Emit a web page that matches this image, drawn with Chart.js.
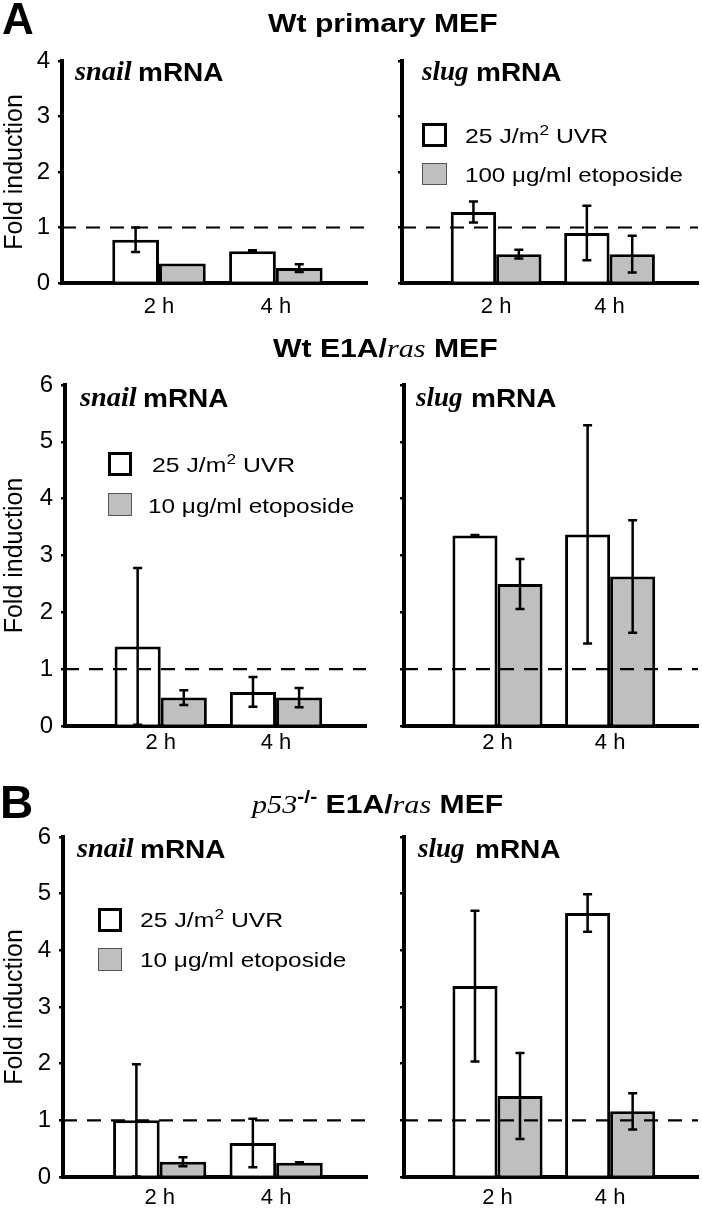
<!DOCTYPE html>
<html lang="en">
<head>
<meta charset="UTF-8">
<title>snail / slug mRNA fold induction</title>
<script src="https://cdn.jsdelivr.net/npm/chart.js"></script>
<style>
  body { margin: 0; background: #fff; }
  #figure { position: relative; width: 702px; height: 1211px; overflow: hidden; background: #fff;
            font-family: "Liberation Sans", Arial, Helvetica, sans-serif; color: #000; }
  #figure canvas { position: absolute; }
  .lbl { position: absolute; white-space: nowrap; line-height: 1; transform-origin: 0 0; }
  .b { font-weight: bold; }
  .gene { font-family: "Liberation Serif", "Times New Roman", serif; font-style: italic; font-weight: bold; }
  .it { font-family: "Liberation Serif", "Times New Roman", serif; font-style: italic; font-weight: normal; }
  .sup { font-size: 0.7em; position: relative; top: -0.55em; }
  .key { position: absolute; box-sizing: border-box; }
</style>
</head>
<body>
<div id="figure">
  <canvas id="aSnail" width="370" height="330" style="left:0;top:0"></canvas>
  <canvas id="aSlug" width="332" height="330" style="left:370px;top:0"></canvas>
  <canvas id="mSnail" width="370" height="430" style="left:0;top:330px"></canvas>
  <canvas id="mSlug" width="332" height="430" style="left:370px;top:330px"></canvas>
  <canvas id="bSnail" width="370" height="451" style="left:0;top:760px"></canvas>
  <canvas id="bSlug" width="332" height="451" style="left:370px;top:760px"></canvas>
</div>

<script>
  // time points (category index on the x axis) and their labels
  const timeIndex = [1, 2];
  const times = ['2 h', '4 h'];

  // A: Wt primary MEF
  const aSnailUV = [0.78, 0.57], aSnailUVErr = [0.22, 0.02];
  const aSnailEto = [0.35, 0.27], aSnailEtoErr = [0, 0.07];
  const aSlugUV = [1.28, 0.90], aSlugUVErr = [0.19, 0.49];
  const aSlugEto = [0.52, 0.52], aSlugEtoErr = [0.08, 0.33];

  // Wt E1A/ras MEF
  const mSnailUV = [1.40, 0.60], mSnailUVErr = [1.38, 0.26];
  const mSnailEto = [0.50, 0.50], mSnailEtoErr = [0.13, 0.17];
  const mSlugUV = [3.35, 3.37], mSlugUVErr = [0.01, 1.92];
  const mSlugEto = [2.50, 2.63], mSlugEtoErr = [0.44, 0.99];

  // B: p53-/- E1A/ras MEF
  const bSnailUV = [1.00, 0.60], bSnailUVErr = [0.99, 0.43];
  const bSnailEto = [0.27, 0.25], bSnailEtoErr = [0.08, 0.01];
  const bSlugUV = [3.37, 4.66], bSlugUVErr = [1.33, 0.33];
  const bSlugEto = [1.43, 1.16], bSlugEtoErr = [0.76, 0.32];

  const baseline = 1; // untreated level, dashed line

  const SANS = '"Liberation Sans", Arial, Helvetica, sans-serif';

  // dashed line at 1 and the error bars, drawn over the bars
  const overlay = {
    id: 'overlay',
    afterDatasetsDraw(chart) {
      const { ctx, chartArea, scales: { y } } = chart;
      ctx.save();
      ctx.strokeStyle = '#000';
      ctx.lineWidth = 2.2;
      ctx.setLineDash([14, 10]);
      const yb = y.getPixelForValue(baseline);
      ctx.beginPath();
      ctx.moveTo(chartArea.left, yb);
      ctx.lineTo(chartArea.right, yb);
      ctx.stroke();
      ctx.setLineDash([]);
      ctx.lineWidth = 2.5;
      chart.data.datasets.forEach((ds, di) => {
        chart.getDatasetMeta(di).data.forEach((bar, i) => {
          const v = ds.data[i].y, e = ds.errors[i];
          if (!e) return;
          const top = y.getPixelForValue(v + e);
          const bot = y.getPixelForValue(Math.max(v - e, 0));
          ctx.beginPath();
          ctx.moveTo(bar.x, top); ctx.lineTo(bar.x, bot);
          ctx.moveTo(bar.x - 4.5, top); ctx.lineTo(bar.x + 4.5, top);
          ctx.moveTo(bar.x - 4.5, bot); ctx.lineTo(bar.x + 4.5, bot);
          ctx.stroke();
        });
      });
      ctx.restore();
    }
  };

  const toPoints = vals => timeIndex.map((x, i) => ({ x, y: vals[i] }));

  function makeChart(id, o) {
    new Chart(document.getElementById(id), {
      type: 'bar',
      data: {
        datasets: [
          { label: '25 J/m2 UVR', data: toPoints(o.uv), errors: o.uvErr,
            backgroundColor: '#ffffff', borderColor: '#000', borderWidth: 3,
            categoryPercentage: 0.8, barPercentage: 1 },
          { label: 'etoposide', data: toPoints(o.eto), errors: o.etoErr,
            backgroundColor: '#bfbfbf', borderColor: '#000', borderWidth: 3,
            categoryPercentage: 0.8, barPercentage: 1 }
        ]
      },
      options: {
        responsive: false,
        animation: false,
        devicePixelRatio: 1,
        layout: { padding: { top: o.padTop, right: o.padRight, left: 0, bottom: 0 } },
        plugins: { legend: { display: false }, tooltip: { enabled: false } },
        scales: {
          x: {
            type: 'linear', min: 0.17, max: 2.78, offset: false,
            afterBuildTicks: s => { s.ticks = timeIndex.map(v => ({ value: v })); },
            afterFit: s => { s.height = o.xH; },
            grid: { display: false, drawTicks: false },
            border: { display: true, color: '#000', width: 4 },
            ticks: { color: '#000', padding: o.xPad, font: { family: SANS, size: 22 },
                     callback: v => times[timeIndex.indexOf(v)] }
          },
          y: {
            min: 0, max: o.yMax,
            afterFit: s => { s.width = o.axisX; },
            grid: { drawOnChartArea: false, drawTicks: true, tickLength: 4, color: '#000', lineWidth: 2.5 },
            border: { display: true, color: '#000', width: 4 },
            ticks: { display: o.labels, stepSize: 1, color: '#000', padding: 8, font: { family: SANS, size: 24 } },
            title: { display: o.labels, text: 'Fold induction', color: '#000', padding: 0,
                     font: { family: SANS, size: 25 } }
          }
        }
      },
      plugins: [overlay]
    });
  }

  makeChart('aSnail', { uv: aSnailUV, uvErr: aSnailUVErr, eto: aSnailEto, etoErr: aSnailEtoErr,
    yMax: 4, padTop: 61, xH: 47, xPad: 11, axisX: 62, padRight: 3, labels: true });
  makeChart('aSlug', { uv: aSlugUV, uvErr: aSlugUVErr, eto: aSlugEto, etoErr: aSlugEtoErr,
    yMax: 4, padTop: 61, xH: 47, xPad: 11, axisX: 32, padRight: 4, labels: false });
  makeChart('mSnail', { uv: mSnailUV, uvErr: mSnailUVErr, eto: mSnailEto, etoErr: mSnailEtoErr,
    yMax: 6, padTop: 55, xH: 34, xPad: 4, axisX: 65, padRight: 4, labels: true });
  makeChart('mSlug', { uv: mSlugUV, uvErr: mSlugUVErr, eto: mSlugEto, etoErr: mSlugEtoErr,
    yMax: 6, padTop: 55, xH: 34, xPad: 4, axisX: 34, padRight: 4, labels: false });
  makeChart('bSnail', { uv: bSnailUV, uvErr: bSnailUVErr, eto: bSnailEto, etoErr: bSnailEtoErr,
    yMax: 6, padTop: 77, xH: 34, xPad: 8, axisX: 63, padRight: 3, labels: true });
  makeChart('bSlug', { uv: bSlugUV, uvErr: bSlugUVErr, eto: bSlugEto, etoErr: bSlugEtoErr,
    yMax: 6, padTop: 77, xH: 34, xPad: 8, axisX: 34, padRight: 4, labels: false });

  // text overlays, placed by baseline
  const fig = document.getElementById('figure');
  function label(html, x, base, size, cls, sx) {
    const d = document.createElement('div');
    d.className = 'lbl ' + (cls || '');
    d.innerHTML = html;
    d.style.fontSize = size + 'px';
    d.style.left = x + 'px';
    d.style.top = (base - 0.85 * size) + 'px';
    if (sx) d.style.transform = 'scaleX(' + sx + ')';
    fig.appendChild(d);
  }
  function key(x, y, w, h, fill, border) {
    const d = document.createElement('div');
    d.className = 'key';
    Object.assign(d.style, { left: x + 'px', top: y + 'px', width: w + 'px', height: h + 'px',
                             background: fill, border: border });
    fig.appendChild(d);
  }

  const uvText = '25 J/m<span class="sup">2</span> UVR';

  // panel A
  label('A', 2, 34, 44, 'b');
  label('Wt primary MEF', 268, 32, 26, 'b', 1.16);
  label('snail', 75, 81, 27, 'gene', 1.05);
  label('mRNA', 138, 81, 25, 'b', 1.12);
  label('slug', 422, 81, 27, 'gene', 1.0);
  label('mRNA', 476, 81, 25, 'b', 1.12);
  key(422, 123, 25, 24, '#fff', '3px solid #000');
  key(422, 163, 25, 22, '#bfbfbf', '1px solid #555');
  label(uvText, 465, 143, 21, '', 1.18);
  label('100 \u03bcg/ml etoposide', 465, 182, 21, '', 1.15);

  // Wt E1A/ras
  label('Wt E1A/<span class="it">ras</span> MEF', 273, 357, 26, 'b', 1.16);
  label('snail', 80, 407, 27, 'gene', 1.05);
  label('mRNA', 143, 407, 25, 'b', 1.12);
  label('slug', 416, 407, 27, 'gene', 1.0);
  label('mRNA', 471, 407, 25, 'b', 1.12);
  key(108, 452, 24, 24, '#fff', '3px solid #000');
  key(108, 493, 24, 23, '#bfbfbf', '1px solid #555');
  label(uvText, 152, 472, 21, '', 1.18);
  label('10 \u03bcg/ml etoposide', 148, 513, 21, '', 1.16);

  // panel B
  label('B', 0, 818, 46, 'b');
  label('<span class="it">p53</span><span class="sup">-/-</span> E1A/<span class="it">ras</span> MEF', 252, 813, 26, 'b', 1.16);
  label('snail', 77, 858, 27, 'gene', 1.05);
  label('mRNA', 140, 858, 25, 'b', 1.12);
  label('slug', 418, 858, 27, 'gene', 1.0);
  label('mRNA', 475, 858, 25, 'b', 1.12);
  key(98, 908, 24, 24, '#fff', '3px solid #000');
  key(98, 948, 24, 23, '#bfbfbf', '1px solid #555');
  label(uvText, 140, 927, 21, '', 1.18);
  label('10 \u03bcg/ml etoposide', 140, 967, 21, '', 1.16);
</script>
</body>
</html>
